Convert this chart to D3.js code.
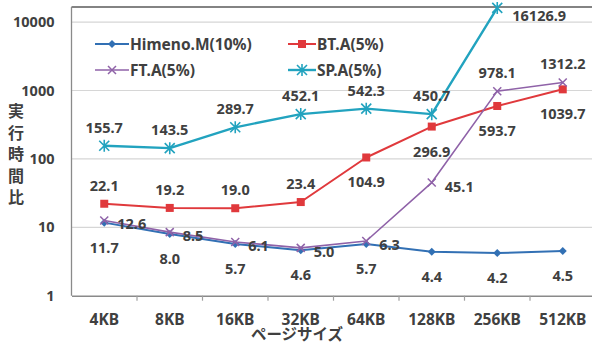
<!DOCTYPE html>
<html>
<head>
<meta charset="utf-8">
<script src="https://cdn.jsdelivr.net/npm/d3@7"></script>
<style>
  html, body { margin: 0; padding: 0; background: #fff; }
  svg { display: block; }
  text { font-family: "Noto Sans", "Noto Sans CJK JP", sans-serif; font-weight: bold; fill: #404040; }
</style>
</head>
<body>
<svg id="chart" width="592" height="344"></svg>
<script>
// Page sizes on the horizontal axis
const pageSizes = ["4KB", "8KB", "16KB", "32KB", "64KB", "128KB", "256KB", "512KB"];

// Execution-time ratio per benchmark (null = not measured)
const himenoM = [11.7, 8.0, 5.7, 4.6, 5.7, 4.4, 4.2, 4.5];
const btA     = [22.1, 19.2, 19.0, 23.4, 104.9, 296.9, 593.7, 1039.7];
const ftA     = [12.6, 8.5, 6.1, 5.0, 6.3, 45.1, 978.1, 1312.2];
const spA     = [155.7, 143.5, 289.7, 452.1, 542.3, 450.7, 16126.9, null];

// Where each series puts its value labels relative to the point
const himenoLabelSide = ["below", "below", "below", "below", "below", "below", "below", "below"];
const btLabelSide     = ["above", "above", "above", "above", "below", "below", "below", "below"];
const ftLabelSide     = ["right", "right", "right", "right", "right", "right", "above", "above"];
const spLabelSide     = ["above", "above", "above", "above", "above", "above", "right", null];

const yTicks = [1, 10, 100, 1000, 10000];
const yTitle = "実行時間比";
const xTitle = "ページサイズ";

const series = [
  { name: "Himeno.M(10%)", values: himenoM, sides: himenoLabelSide, color: "#3270b4", width: 2,   marker: "diamond" },
  { name: "BT.A(5%)",      values: btA,     sides: btLabelSide,     color: "#e0393c", width: 2,   marker: "square" },
  { name: "FT.A(5%)",      values: ftA,     sides: ftLabelSide,     color: "#8f62a8", width: 1.6, marker: "cross" },
  { name: "SP.A(5%)",      values: spA,     sides: spLabelSide,     color: "#22a3bf", width: 2.4, marker: "star" }
];

const svg = d3.select("#chart");

const plot = { left: 71.5, right: 595.5, top: 7, bottom: 295.7 };

const x = d3.scaleBand().domain(pageSizes).range([plot.left, plot.right]);
const y = d3.scaleLog().domain([1, 10000]).range([plot.bottom, 22.1]);
const cx = d => x(d) + x.bandwidth() / 2;

// Horizontal gridlines
svg.append("g").selectAll("line").data(yTicks.slice(1)).join("line")
  .attr("x1", plot.left).attr("x2", plot.right)
  .attr("y1", d => y(d)).attr("y2", d => y(d))
  .attr("stroke", "#d6d6d6").attr("stroke-width", 1.2);

// Plot frame
svg.append("line").attr("x1", plot.left).attr("x2", plot.right)
  .attr("y1", plot.top).attr("y2", plot.top)
  .attr("stroke", "#5a5a5a").attr("stroke-width", 1.3);
svg.append("line").attr("x1", plot.left).attr("x2", plot.left)
  .attr("y1", plot.top).attr("y2", plot.bottom)
  .attr("stroke", "#8a8a8a").attr("stroke-width", 1.3);

// X axis
const xAxis = svg.append("g").attr("transform", `translate(0,${plot.bottom})`)
  .call(d3.axisBottom(x).tickSize(0).tickPadding(18));
xAxis.select(".domain").attr("stroke", "#8a8a8a").attr("stroke-width", 1.5);
xAxis.selectAll("text").attr("font-size", 15.5).attr("fill", "#404040")
  .style("font-family", "\"Noto Sans\", sans-serif").style("font-weight", "bold");
// Small category separators under the axis
svg.append("g").selectAll("line").data(pageSizes.slice(1)).join("line")
  .attr("x1", d => x(d)).attr("x2", d => x(d))
  .attr("y1", plot.bottom).attr("y2", plot.bottom + 5)
  .attr("stroke", "#a0a0a0").attr("stroke-width", 1.2);

// Y axis labels
const yAxis = svg.append("g").attr("transform", `translate(${plot.left},0)`)
  .call(d3.axisLeft(y).tickValues(yTicks).tickFormat(d3.format("d")).tickSize(0).tickPadding(17));
yAxis.select(".domain").remove();
yAxis.selectAll("text").attr("font-size", 14.5).attr("fill", "#404040")
  .style("font-family", "\"Noto Sans\", sans-serif").style("font-weight", "bold");

// Vertical y-axis title, one upright character per row
svg.append("text")
  .attr("x", 16).attr("y", 103)
  .attr("font-size", 16)
  .style("font-family", "\"Noto Sans CJK JP\", sans-serif")
  .style("writing-mode", "vertical-rl")
  .style("text-orientation", "upright")
  .style("letter-spacing", "5.5px")
  .text(yTitle);

svg.append("text").attr("x", 297).attr("y", 339.5)
  .attr("text-anchor", "middle")
  .attr("font-size", 15.5).style("font-family", "\"Noto Sans CJK JP\", sans-serif")
  .text(xTitle);

// Marker shapes
function drawMarker(g, kind, color, px, py) {
  if (kind === "diamond") {
    g.append("path").attr("d", `M${px},${py - 4}L${px + 4},${py}L${px},${py + 4}L${px - 4},${py}Z`).attr("fill", color);
  } else if (kind === "square") {
    g.append("rect").attr("x", px - 4).attr("y", py - 4).attr("width", 8).attr("height", 8).attr("fill", color);
  } else if (kind === "cross") {
    g.append("path").attr("d", `M${px - 4},${py - 4}L${px + 4},${py + 4}M${px - 4},${py + 4}L${px + 4},${py - 4}`)
      .attr("stroke", color).attr("stroke-width", 1.5);
  } else if (kind === "star") {
    g.append("path").attr("d", `M${px - 5},${py - 5}L${px + 5},${py + 5}M${px - 5},${py + 5}L${px + 5},${py - 5}M${px},${py - 6}L${px},${py + 6}`)
      .attr("stroke", color).attr("stroke-width", 1.6);
  }
}

const lineGen = d3.line()
  .defined(d => d.v != null)
  .x(d => cx(d.c)).y(d => y(d.v));

const marks = svg.append("g");
series.forEach(s => {
  const pts = pageSizes.map((c, i) => ({ c, v: s.values[i], side: s.sides[i] }));
  const g = marks.append("g");
  g.append("path").datum(pts).attr("d", lineGen)
    .attr("fill", "none").attr("stroke", s.color).attr("stroke-width", s.width)
    .attr("stroke-linejoin", "round");
  pts.filter(p => p.v != null).forEach(p => drawMarker(g, s.marker, s.color, cx(p.c), y(p.v)));
});

// Value labels
const labels = svg.append("g");
series.forEach(s => {
  pageSizes.forEach((c, i) => {
    const v = s.values[i];
    if (v == null) return;
    const side = s.sides[i];
    const px = cx(c), py = y(v);
    let tx = px, ty = py, anchor = "middle";
    if (side === "above") { ty = py - 19; }
    else if (side === "below") { ty = py + 24; }
    else if (side === "right") { tx = px + 13; ty = py + 3; anchor = "start"; }
    if (v > 10000) { tx = px + 15; ty = py + 7; }
    labels.append("text").attr("x", tx).attr("y", ty)
      .attr("text-anchor", anchor).attr("dominant-baseline", "central")
      .attr("font-size", 14.5).text(d3.format(".1f")(v));
  });
});

// Legend
const legendPos = [[95, 44], [288, 44], [95, 70], [288, 70]];
series.forEach((s, i) => {
  const [lx, ly] = legendPos[i];
  const g = svg.append("g");
  const len = i % 2 === 0 ? 34 : 28;
  g.append("line").attr("x1", lx).attr("x2", lx + len).attr("y1", ly).attr("y2", ly)
    .attr("stroke", s.color).attr("stroke-width", s.width);
  drawMarker(g, s.marker, s.color, lx + len / 2, ly);
  g.append("text").attr("x", lx + len + 1).attr("y", ly)
    .attr("dominant-baseline", "central").attr("font-size", 15.5).text(s.name);
});
</script>
</body>
</html>
